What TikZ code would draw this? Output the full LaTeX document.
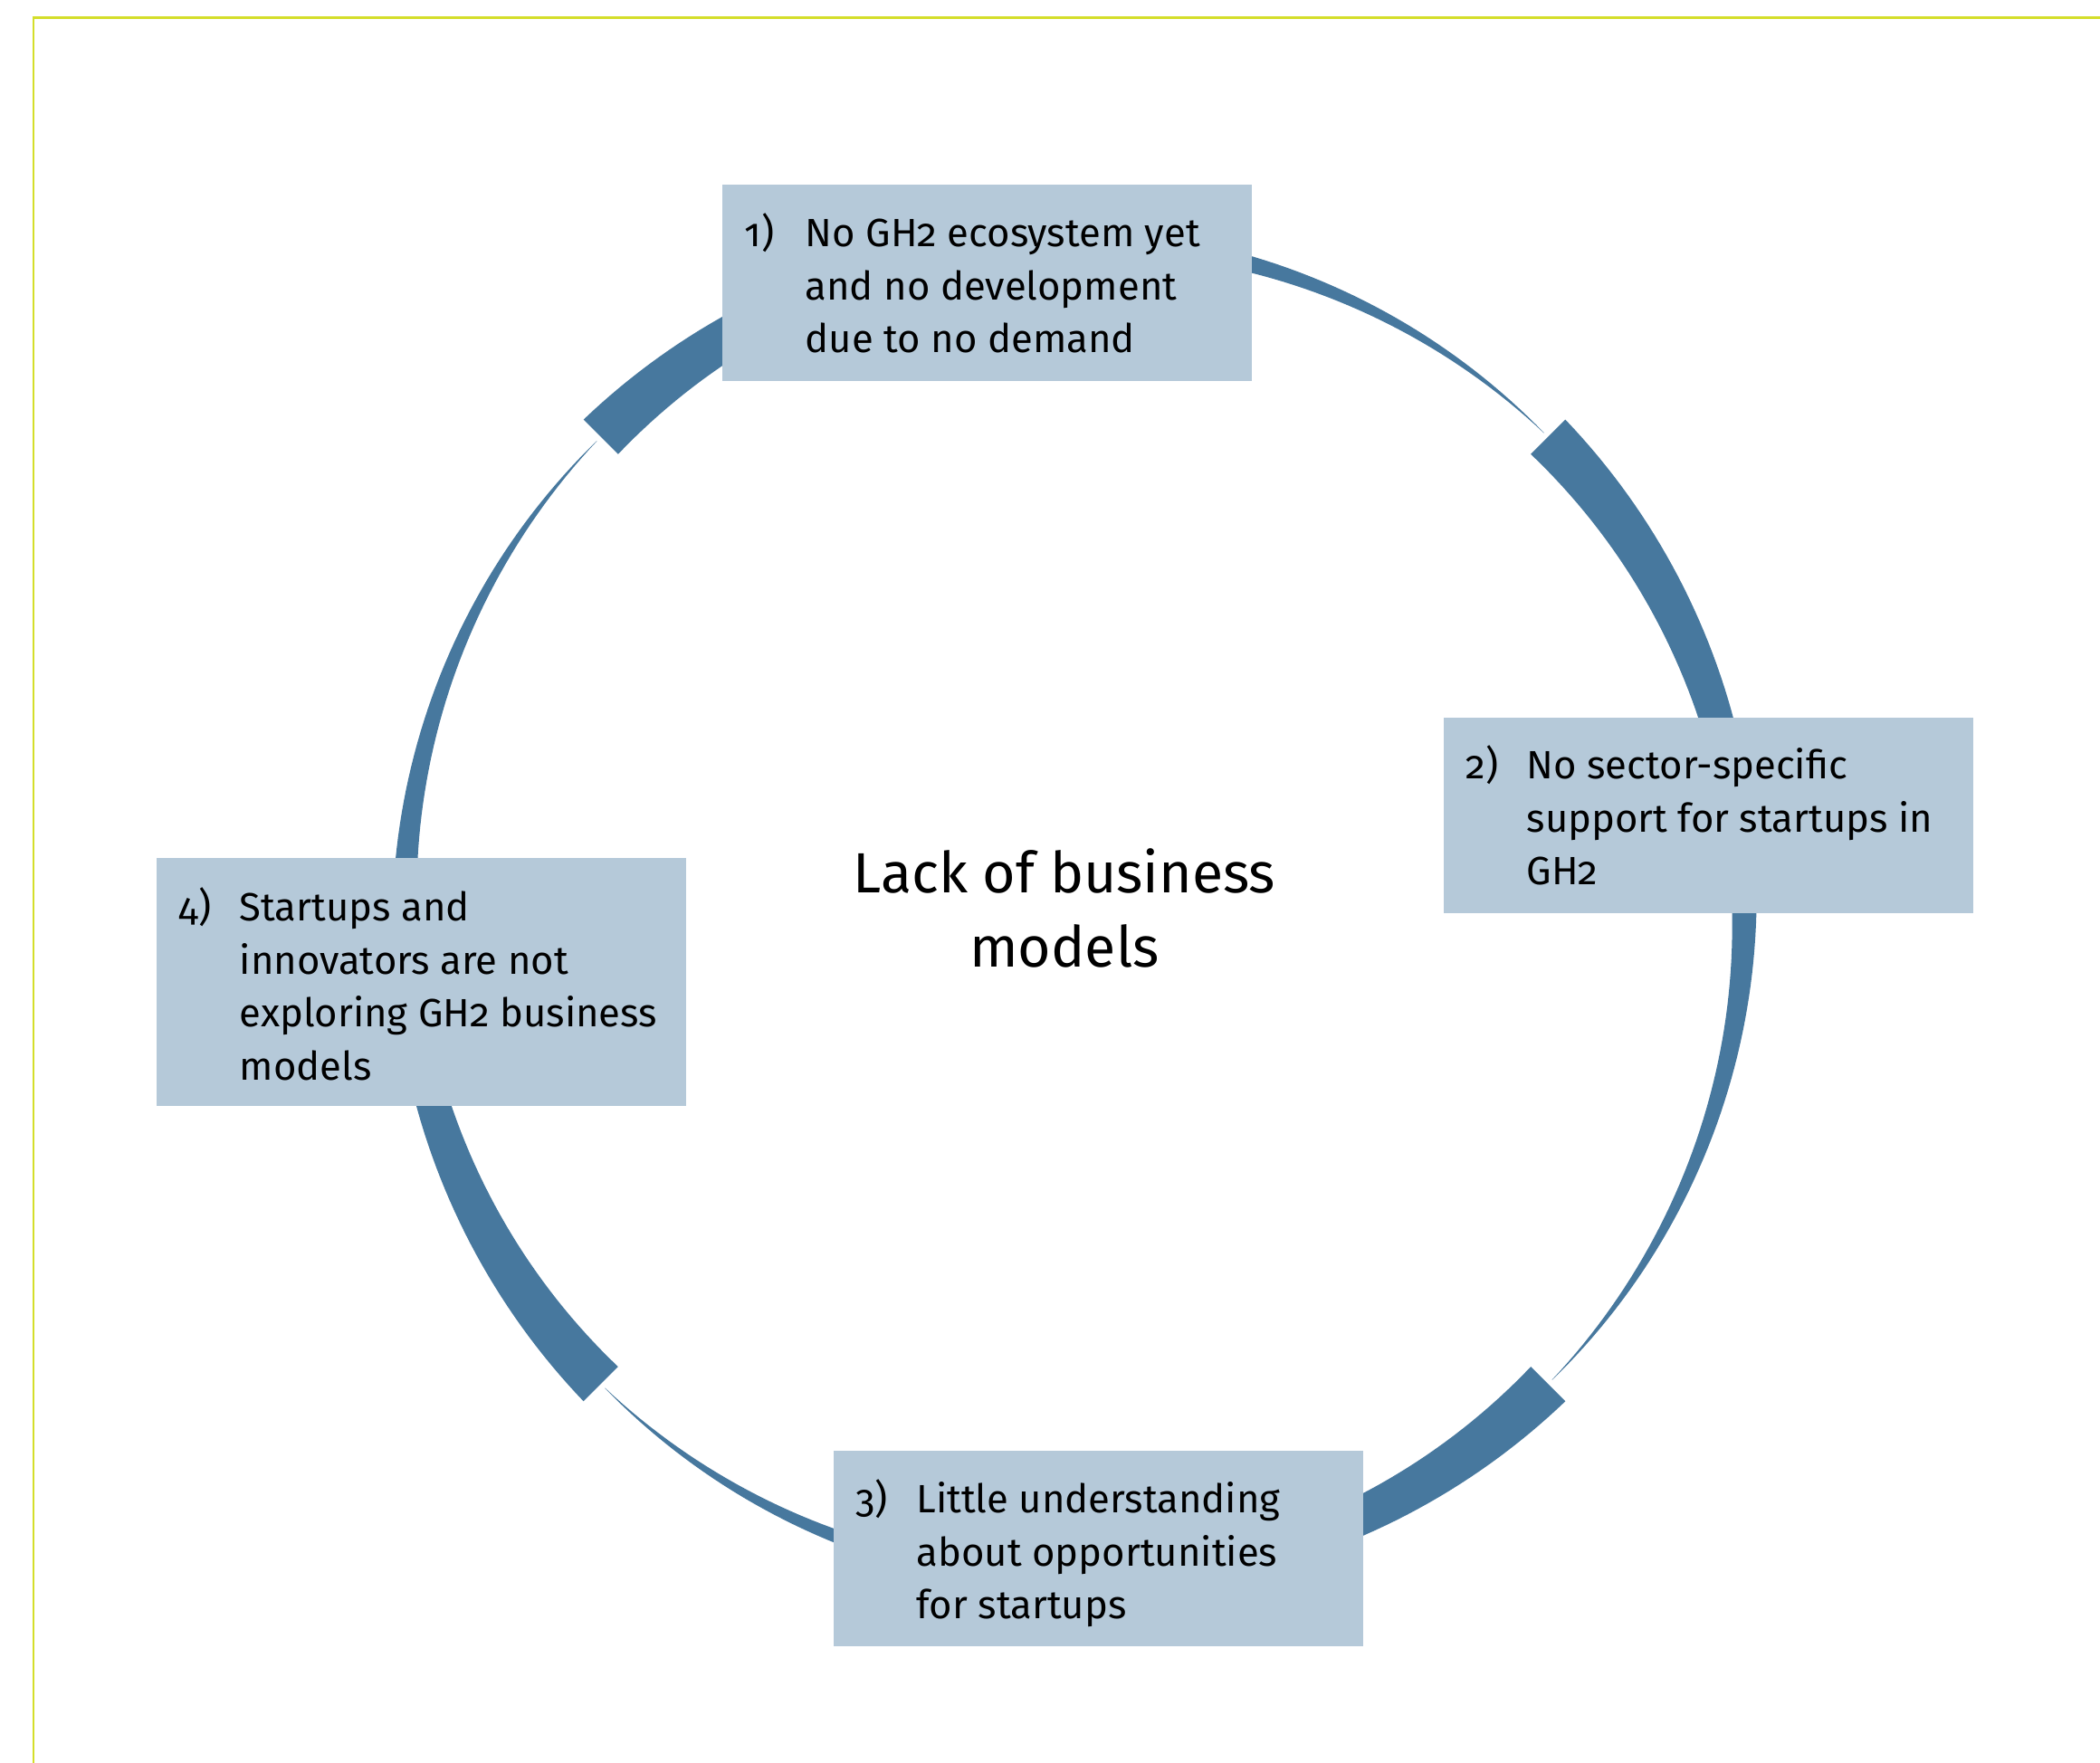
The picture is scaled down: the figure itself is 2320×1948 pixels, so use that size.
\documentclass[tikz,border=0pt]{standalone}
\usepackage{fontspec}
\setmainfont{Fira Sans}[Numbers=OldStyle]
\usetikzlibrary{calc}
\definecolor{framegreen}{RGB}{212,222,42}
\definecolor{ringblue}{RGB}{71,120,158}
\definecolor{boxblue}{RGB}{181,201,217}

\begin{document}
\begin{tikzpicture}[x=0.01cm,y=0.01cm,
  box/.style={rectangle, fill=boxblue, draw=none, inner sep=0pt, anchor=north west, minimum width=5.85cm},
  boxnum/.style={anchor=base west, inner sep=0pt, font=\fontsize{12.4}{16.6}\selectfont},
  boxtext/.style={anchor=base west, inner sep=0pt, font=\fontsize{12.4}{16.6}\selectfont},
  title/.style={anchor=base, inner sep=0pt, font=\fontsize{17.8}{23.2}\selectfont}]
\useasboundingbox (0,0) rectangle (2320,1948);

% frame lines along the top and left edges
\draw[framegreen, line width=0.85pt] (37,0) -- (37,1928.5) -- (2320,1928.5);

% ring of four tapering arcs, thick end first, running clockwise
\begin{scope}[shift={(1187,942)}]
  \foreach \s in {45,-45,-135,-225}{
    \fill[ringblue]
      plot[domain=0:89.5, samples=90, variable=\t] ({\s-\t}:{740+27*(1-\t/90)})
      -- plot[domain=89.5:0, samples=90, variable=\t] ({\s-\t}:{740-27*(1-\t/90)})
      -- cycle;
  }
\end{scope}

% text boxes
\node[box, minimum height=2.17cm] (b1) at (797,1745) {};
\node[box, minimum height=2.16cm] (b2) at (1594,1156) {};
\node[box, minimum height=2.16cm] (b3) at (920,346) {};
\node[box, minimum height=2.74cm] (b4) at (172,1001) {};

\node[boxnum] (n1) at ($(b1.north west)+(25,-70)$) {1)};
\node[boxtext] (t1) at ($(b1.north west)+(92,-70)$)
  {\parbox[t]{4.9cm}{\raggedright No GH2 ecosystem yet\\and no development\\due to no demand}};

\node[boxnum] (n2) at ($(b2.north west)+(25,-69)$) {2)};
\node[boxtext] (t2) at ($(b2.north west)+(92,-69)$)
  {\parbox[t]{4.9cm}{\raggedright No sector-specific\\support for startups in\\GH2}};

\node[boxnum] (n3) at ($(b3.north west)+(25,-70)$) {3)};
\node[boxtext] (t3) at ($(b3.north west)+(92,-70)$)
  {\parbox[t]{4.9cm}{\raggedright Little understanding\\about opportunities\\for startups}};

\node[boxnum] (n4) at ($(b4.north west)+(25,-71)$) {4)};
\node[boxtext] (t4) at ($(b4.north west)+(92,-71)$)
  {\parbox[t]{4.9cm}{\raggedright Startups and\\innovators are not\\exploring GH2 business\\models}};

% centre caption
\node[title] (c) at (1176,961) {\parbox[t]{8cm}{\centering Lack of business\\models}};
\end{tikzpicture}
\end{document}
